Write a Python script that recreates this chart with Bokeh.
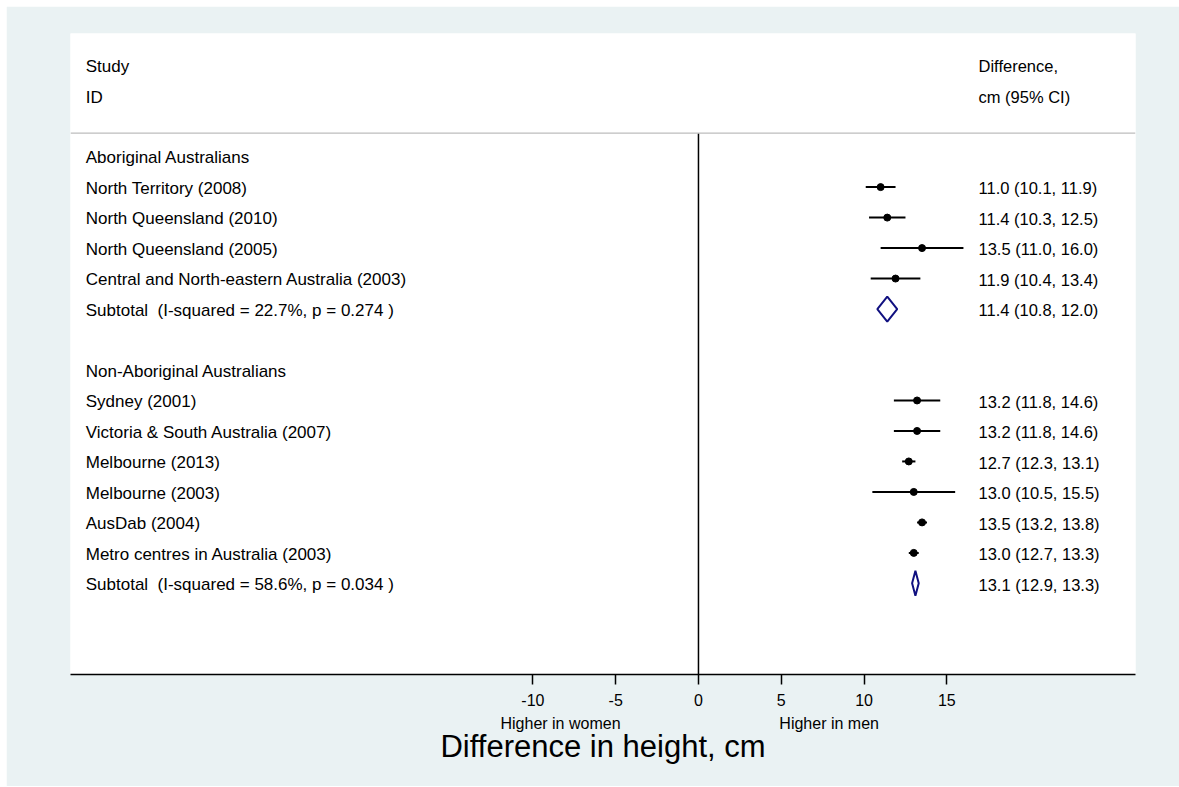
from bokeh.plotting import figure
from bokeh.models import Range1d, LinearAxis, FixedTicker, Span
from bokeh.embed import file_html
from bokeh.resources import INLINE
from bokeh.core.properties import value

# ---------------- data ----------------
group_names = ["Aboriginal Australians", "Non-Aboriginal Australians"]

g1_studies = ["North Territory (2008)", "North Queensland (2010)",
              "North Queensland (2005)", "Central and North-eastern Australia (2003)"]
g1_est = [11.0, 11.4, 13.5, 11.9]
g1_lo = [10.1, 10.3, 11.0, 10.4]
g1_hi = [11.9, 12.5, 16.0, 13.4]
g1_sub_est, g1_sub_lo, g1_sub_hi = 11.4, 10.8, 12.0
g1_sub_label = "Subtotal\u00a0 (I-squared = 22.7%, p = 0.274 )"

g2_studies = ["Sydney (2001)", "Victoria & South Australia (2007)", "Melbourne (2013)",
              "Melbourne (2003)", "AusDab (2004)", "Metro centres in Australia (2003)"]
g2_est = [13.2, 13.2, 12.7, 13.0, 13.5, 13.0]
g2_lo = [11.8, 11.8, 12.3, 10.5, 13.2, 12.7]
g2_hi = [14.6, 14.6, 13.1, 15.5, 13.8, 13.3]
g2_sub_est, g2_sub_lo, g2_sub_hi = 13.1, 12.9, 13.3
g2_sub_label = "Subtotal\u00a0 (I-squared = 58.6%, p = 0.034 )"

x_ticks = [-10, -5, 0, 5, 10, 15]
x_tick_labels = ["-10", "-5", "0", "5", "10", "15"]
header_left = ["Study", "ID"]
header_right = ["Difference,", "cm (95% CI)"]
x_title = "Difference in height, cm"
side_labels = ["Higher in women", "Higher in men"]

# ---------------- layout of rows ----------------
FONT = "Liberation Sans"
study_rows, study_est, study_lo, study_hi = [], [], [], []
sub_rows, sub_est, sub_lo, sub_hi = [], [], [], []
left_text, left_y = [], []
right_text, right_y = [], []

def fmt(e, l, h):
    return f"{e:.1f} ({l:.1f}, {h:.1f})"

row = 0
groups = [
    (group_names[0], g1_studies, g1_est, g1_lo, g1_hi, g1_sub_est, g1_sub_lo, g1_sub_hi, g1_sub_label),
    (group_names[1], g2_studies, g2_est, g2_lo, g2_hi, g2_sub_est, g2_sub_lo, g2_sub_hi, g2_sub_label),
]
for gname, st, es, lo, hi, se, sl, sh, slab in groups:
    left_text.append(gname); left_y.append(row); row += 1
    for s, e, l, h in zip(st, es, lo, hi):
        left_text.append(s); left_y.append(row)
        right_text.append(fmt(e, l, h)); right_y.append(row)
        study_rows.append(row); study_est.append(e); study_lo.append(l); study_hi.append(h)
        row += 1
    left_text.append(slab); left_y.append(row)
    right_text.append(fmt(se, sl, sh)); right_y.append(row)
    sub_rows.append(row); sub_est.append(se); sub_lo.append(sl); sub_hi.append(sh)
    row += 2

header_y = [-2.97, -1.95]
divider_y = -0.77
TEXT_DY = 0.04  # texts sit slightly below marker centre

X_LEFT, X_RIGHT = -37.92, 26.39
TEXT_LEFT_X = -37.0
TEXT_RIGHT_X = 16.91

p = figure(width=1173, height=780,
           x_range=Range1d(X_LEFT, X_RIGHT), y_range=Range1d(16.99, -4.04),
           output_backend="svg", toolbar_location=None,
           y_axis_location=None,
           min_border_left=64, min_border_right=44,
           min_border_top=27, min_border_bottom=112)
p.margin = (6, 0, 0, 6)
p.border_fill_color = "#EAF2F3"
p.background_fill_color = "white"
p.outline_line_color = None
p.xgrid.grid_line_color = None
p.ygrid.grid_line_color = None

# main x axis
ax = p.xaxis[0]
ax.ticker = FixedTicker(ticks=x_ticks)
ax.major_label_overrides = {t: s for t, s in zip(x_ticks, x_tick_labels)}
ax.major_tick_out = 10
ax.major_tick_in = 0
ax.minor_tick_line_color = None
ax.axis_line_width = 1.5
ax.axis_line_color = "black"
ax.major_tick_line_width = 1.5
ax.major_tick_line_color = "black"
ax.major_label_text_font = FONT
ax.major_label_text_font_size = "16px"
ax.major_label_text_color = "black"
ax.major_label_standoff = 9

# second axis: direction labels + title
side_pos = [-8.33, 7.89]
ax2 = LinearAxis(ticker=FixedTicker(ticks=side_pos),
                 major_label_overrides={side_pos[0]: side_labels[0], side_pos[1]: side_labels[1]})
ax2.axis_line_color = None
ax2.major_tick_line_color = None
ax2.minor_tick_line_color = None
ax2.major_tick_out = 0
ax2.major_tick_in = 0
ax2.major_label_standoff = 6
ax2.major_label_text_font = FONT
ax2.major_label_text_font_size = "16px"
ax2.major_label_text_color = "black"
ax2.axis_label = x_title
ax2.axis_label_text_font = FONT
ax2.axis_label_text_font_size = "31px"
ax2.axis_label_text_font_style = "normal"
ax2.axis_label_text_color = "black"
ax2.axis_label_standoff = -6
p.add_layout(ax2, "below")

# divider line under header
p.add_layout(Span(location=divider_y, dimension="width", line_color="#BDBDBD", line_width=1.2))
# null line at 0
p.segment(x0=[0], x1=[0], y0=[divider_y], y1=[16.99], line_color="black", line_width=1.5)

# CIs and points
p.segment(x0=study_lo, x1=study_hi, y0=study_rows, y1=study_rows, line_color="black", line_width=2)
p.scatter(x=study_est, y=study_rows, marker="circle", size=7, color="black")

# subtotal diamonds
H = 0.41
xs = [[l, e, h, e] for e, l, h in zip(sub_est, sub_lo, sub_hi)]
ys = [[r, r - H, r, r + H] for r in sub_rows]
p.patches(xs, ys, fill_color=None, line_color="#101080", line_width=2)

# texts
p.text(x=[TEXT_LEFT_X] * len(left_text), y=[v + TEXT_DY for v in left_y], text=left_text,
       text_font=value(FONT), text_font_size="17px", text_baseline="middle",
       text_align="left", text_color="black")
p.text(x=[TEXT_RIGHT_X] * len(right_text), y=[v + TEXT_DY for v in right_y], text=right_text,
       text_font=value(FONT), text_font_size="16.5px", text_baseline="middle",
       text_align="left", text_color="black")
p.text(x=[TEXT_LEFT_X] * 2, y=header_y, text=header_left,
       text_font=value(FONT), text_font_size="17px", text_baseline="middle",
       text_align="left", text_color="black")
p.text(x=[TEXT_RIGHT_X] * 2, y=header_y, text=header_right,
       text_font=value(FONT), text_font_size="16.5px", text_baseline="middle",
       text_align="left", text_color="black")

open("out.html", "w").write(file_html(p, INLINE))
